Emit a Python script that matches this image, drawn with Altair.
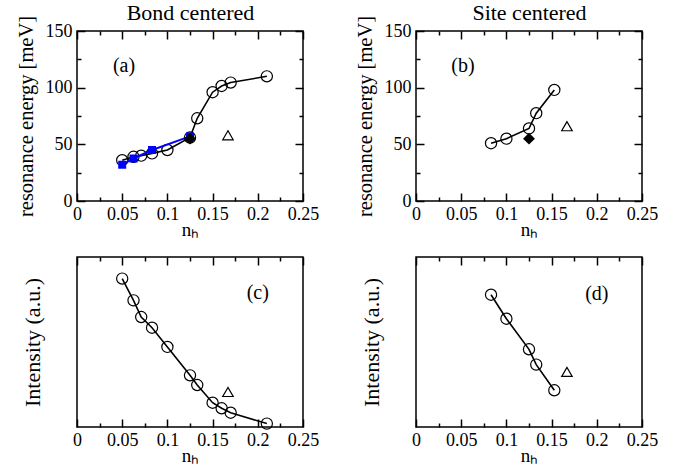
import altair as alt
import pandas as pd

FONT = "Liberation Serif, Times New Roman, Times, serif"
W, H = 226, 170

# ---- data ----
a_circ_x = [0.05, 0.0625, 0.071, 0.083, 0.1, 0.125, 0.133, 0.15, 0.16, 0.17, 0.21]
a_circ_y = [36, 39, 40, 42, 45, 56, 73, 96, 101.5, 104.5, 110]
a_sq_x = [0.05, 0.0625, 0.083, 0.125]
a_sq_y = [32, 37.5, 45, 57]
a_dia_x, a_dia_y = [0.125], [55]
a_tri_x, a_tri_y = [0.167], [58]

b_circ_x = [0.083, 0.1, 0.125, 0.133, 0.153]
b_circ_y = [51, 55, 64, 77.5, 98]
b_dia_x, b_dia_y = [0.125], [55]
b_tri_x, b_tri_y = [0.167], [66]

c_circ_x = a_circ_x
c_circ_y = [0.873, 0.745, 0.647, 0.584, 0.471, 0.304, 0.247, 0.143, 0.110, 0.084, 0.020]
c_tri_x, c_tri_y = [0.167], [0.206]

d_circ_x = b_circ_x
d_circ_y = [0.778, 0.637, 0.457, 0.367, 0.216]
d_tri_x, d_tri_y = [0.167], [0.324]

x_major = [0, 0.05, 0.1, 0.15, 0.2, 0.25]
x_all = [0, 0.025, 0.05, 0.075, 0.1, 0.125, 0.15, 0.175, 0.2, 0.225, 0.25]
y_major = [0, 50, 100, 150]
y_all = [0, 25, 50, 75, 100, 125, 150]

labels_txt = ["(a)", "(b)", "(c)", "(d)"]
labels_x = [0.052, 0.052, 0.2, 0.2]
labels_y = [119, 119, 0.79, 0.785]

XMAJ = "abs(datum.value*20 - round(datum.value*20)) < 0.001"
YMAJ = "datum.value % 50 == 0"


def df(x, y):
    return pd.DataFrame({"x": x, "y": y})


def panel(circ_x, circ_y, ydomain, ytitle, energy, label_i,
          sq=None, dia=None, tri=None, title=None):
    xs = alt.Scale(domain=[0, 0.25], nice=False, zero=False)
    ys = alt.Scale(domain=ydomain, nice=False, zero=False)
    base = alt.Chart(df(circ_x, circ_y))

    x_lab = alt.Axis(orient="bottom", values=x_major, format="~g", ticks=False,
                     domain=False, grid=False, labelFont=FONT, labelFontSize=18,
                     labelPadding=4.5, labelColor="black", labelFlush=False,
                     title="nₕ", titleFont=FONT, titleFontSize=19,
                     titleFontWeight="normal", titleColor="black", titlePadding=-3,
                     labelOverlap=False)
    if energy:
        y_lab = alt.Axis(orient="left", values=y_major, ticks=False, domain=False,
                         grid=False, labelFont=FONT, labelFontSize=18,
                         labelPadding=5, labelColor="black", labelFlush=False,
                         title=ytitle, titleFont=FONT, titleFontSize=20.5,
                         titleFontWeight="normal", titleColor="black",
                         titlePadding=9, labelOverlap=False)
    else:
        y_lab = alt.Axis(orient="left", labels=False, ticks=False, domain=False,
                         grid=False, title=ytitle, titleFont=FONT, titleFontSize=22,
                         titleFontWeight="normal", titleColor="black",
                         titlePadding=33)
    tick_x = {"condition": {"test": XMAJ, "value": 8}, "value": 4}
    tick_y = {"condition": {"test": YMAJ, "value": 8}, "value": 4}

    def tick_axis(orient, offset, vals, ts):
        return alt.Axis(orient=orient, offset=offset, values=vals, labels=False,
                        domain=False, grid=False, title=None, tickSize=ts,
                        tickColor="black", tickWidth=1.5)

    l1 = base.mark_point(opacity=0).encode(
        x=alt.X("x:Q", scale=xs, axis=x_lab),
        y=alt.Y("y:Q", scale=ys, axis=y_lab))
    l2 = base.mark_point(opacity=0).encode(
        x=alt.X("x:Q", scale=xs, axis=tick_axis("top", -H, x_all, tick_x)),
        y=alt.Y("y:Q", scale=ys,
                axis=tick_axis("right", -W, y_all, tick_y) if energy else None))
    l3 = base.mark_point(opacity=0).encode(
        x=alt.X("x:Q", scale=xs, axis=tick_axis("bottom", -H, x_all, tick_x)),
        y=alt.Y("y:Q", scale=ys,
                axis=tick_axis("left", -W, y_all, tick_y) if energy else None))
    layers = [l1, l2, l3]
    if title:
        layers.append(base.mark_point(opacity=0).encode(
            x=alt.X("x:Q", scale=xs,
                    axis=alt.Axis(orient="top", labels=False, ticks=False,
                                  domain=False, grid=False, title=title,
                                  titleFont=FONT, titleFontSize=22,
                                  titleFontWeight="normal", titleColor="black",
                                  titlePadding=7)),
            y=alt.Y("y:Q", scale=ys, axis=None)))

    enc = dict(x=alt.X("x:Q", scale=xs, axis=None), y=alt.Y("y:Q", scale=ys, axis=None))
    layers.append(base.mark_line(color="black", strokeWidth=1.6).encode(**enc))
    layers.append(base.mark_point(shape="circle", size=125, filled=False,
                                  color="black", strokeWidth=1.2, opacity=1).encode(**enc))
    if sq is not None:
        sqb = alt.Chart(df(*sq))
        layers.append(sqb.mark_line(color="#0000ff", strokeWidth=2).encode(**enc))
        layers.append(sqb.mark_point(shape="square", size=64, filled=True,
                                     color="#0000ff", opacity=1).encode(**enc))
    if dia is not None:
        layers.append(alt.Chart(df(*dia)).mark_point(
            shape="diamond", size=140, filled=True, color="black", opacity=1).encode(**enc))
    if tri is not None:
        layers.append(alt.Chart(df(*tri)).mark_point(
            shape="triangle-up", size=110, filled=False, color="black",
            strokeWidth=1.2, opacity=1).encode(**enc))
    lab = pd.DataFrame({"x": [labels_x[label_i]], "y": [labels_y[label_i]],
                        "t": [labels_txt[label_i]]})
    layers.append(alt.Chart(lab).mark_text(font=FONT, fontSize=20, color="black").encode(
        text="t:N", **enc))

    ch = alt.layer(*layers).resolve_axis(x="independent", y="independent")
    return ch.properties(width=W, height=H)


pa = panel(a_circ_x, a_circ_y, [0, 150], "resonance energy [meV]", True, 0,
           sq=(a_sq_x, a_sq_y), dia=(a_dia_x, a_dia_y), tri=(a_tri_x, a_tri_y),
           title="Bond centered")
pb = panel(b_circ_x, b_circ_y, [0, 150], "resonance energy [meV]", True, 1,
           dia=(b_dia_x, b_dia_y), tri=(b_tri_x, b_tri_y), title="Site centered")
pc = panel(c_circ_x, c_circ_y, [0, 1], "Intensity (a.u.)", False, 2,
           tri=(c_tri_x, c_tri_y))
pd_ = panel(d_circ_x, d_circ_y, [0, 1], "Intensity (a.u.)", False, 3,
            tri=(d_tri_x, d_tri_y))

chart = alt.concat(pa, pb, pc, pd_, columns=2,
                   spacing={"row": 56, "column": 113}, bounds="flush").configure(
    font=FONT).configure_view(
    stroke="black", strokeWidth=1.5).properties(
    padding={"left": 15, "top": 0, "right": 5, "bottom": 0}, background="white")

chart.save("out.html", embed_options={"renderer": "svg", "actions": False})
